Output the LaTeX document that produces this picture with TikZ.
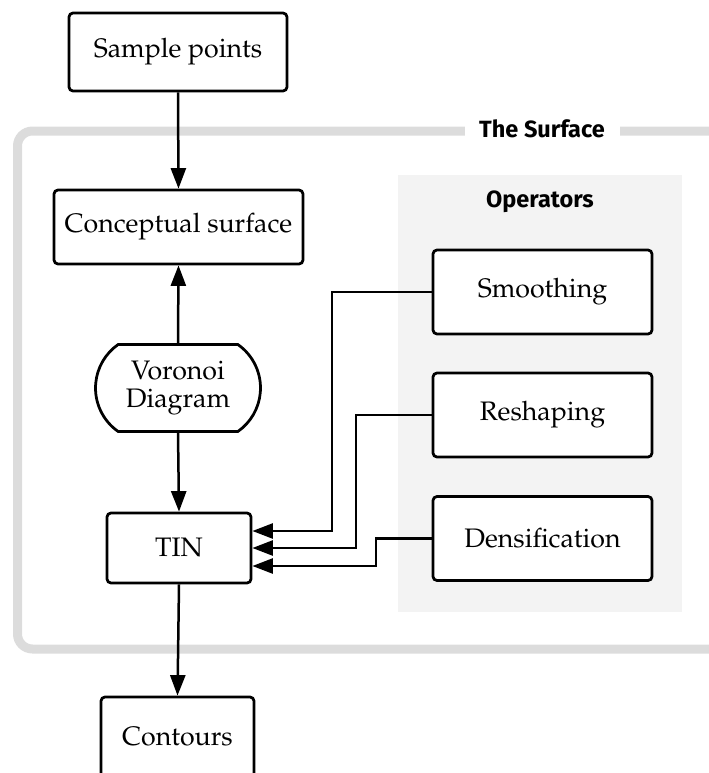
\documentclass[tikz,border=0pt]{standalone}
\usepackage[T1]{fontenc}
\usepackage{fontspec}
\usetikzlibrary{arrows.meta,shapes.misc}
\newfontfamily\labfont{Fira Sans}
\newcommand\palfont{\fontencoding{T1}\fontfamily{ppl}\selectfont\fontsize{10.7}{11.2}\selectfont}
\def\pxu{0.4pt}
\definecolor{framegray}{HTML}{DCDCDC}
\definecolor{opsgray}{HTML}{F3F3F3}
\tikzset{
  box/.style={draw, line width=1.1pt, rounded corners=1.6pt, fill=white,
    font=\palfont, inner sep=0pt},
  flow/.style={line width=1pt, -{Triangle[length=8.2pt,width=6pt]}},
  grouplabel/.style={font=\labfont\bfseries\fontsize{9.4}{11}\selectfont, inner sep=0pt}
}
\begin{document}
\begin{tikzpicture}[x=0.4pt, y=-0.4pt]
\useasboundingbox (0,0) rectangle (708,773);

% outer frame of the surface group
\draw[framegray, line width=3.6pt, rounded corners=6pt]
  (740,131) -- (17.5,131) -- (17.5,649) -- (740,649);
\node[grouplabel, fill=white, minimum width=155*\pxu, minimum height=20*\pxu]
  (surf) at (542,129) {The Surface};

% operators panel
\fill[opsgray] (398,175) rectangle (682,612);
\node[grouplabel] (ops) at (540,202) {Operators};

% main chain
\node[box, minimum width=218*\pxu, minimum height=78*\pxu] (sample) at (178,52) {Sample points};
\node[box, minimum width=249*\pxu, minimum height=74*\pxu] (concept) at (178.5,227) {Conceptual surface};
\node[draw, line width=1.1pt, fill=white, rounded rectangle, rounded rectangle arc length=110,
  minimum width=165*\pxu, minimum height=87*\pxu, inner sep=0pt, align=center,
  font=\palfont] (voronoi) at (178,388) {Voronoi\\Diagram};
\node[box, minimum width=144*\pxu, minimum height=70*\pxu] (tin) at (179,548) {TIN};
\node[box, minimum width=153*\pxu, minimum height=80*\pxu] (contours) at (177.5,737) {Contours};

% operator boxes
\node[box, minimum width=219*\pxu, minimum height=84*\pxu] (smooth) at (542.5,292) {Smoothing};
\node[box, minimum width=219*\pxu, minimum height=84*\pxu] (reshape) at (542.5,415) {Reshaping};
\node[box, minimum width=219*\pxu, minimum height=84*\pxu] (dense) at (542.5,538.5) {Densification};

% vertical flow
\draw[flow] (sample.south) -- (concept.north);
\draw[flow] (voronoi.north) -- (concept.south);
\draw[flow] (voronoi.south) -- (tin.north);
\draw[flow] (tin.south) -- (contours.north);

% operators feeding the TIN
\draw[flow] (smooth.west) -- (332,292) |- ([yshift=17*\pxu]tin.east);
\draw[flow] (reshape.west) -- (356,415) |- (tin.east);
\draw[flow] (dense.west) -- (376,538.5) |- ([yshift=-18*\pxu]tin.east);
\end{tikzpicture}
\end{document}
